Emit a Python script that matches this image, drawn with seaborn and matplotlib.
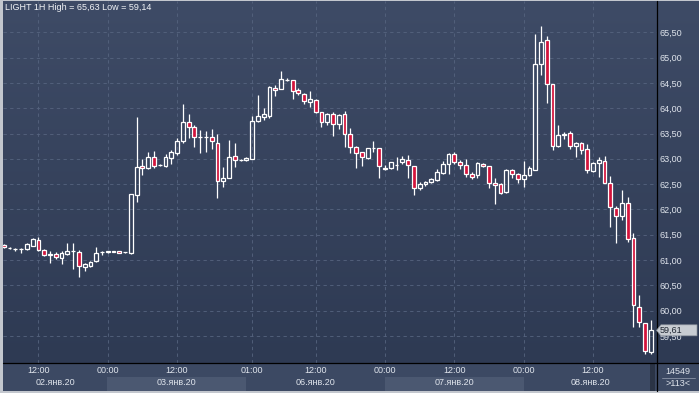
import numpy as np
import matplotlib
matplotlib.use("Agg")
import matplotlib.pyplot as plt
import seaborn as sns
from matplotlib.colors import LinearSegmentedColormap
from matplotlib.patches import Rectangle, Polygon
from matplotlib.lines import Line2D
from matplotlib.transforms import IdentityTransform

# Hourly candles, 02.01.2020 06:00 .. 08.01.2020 (113 bars)
opens = [61.29, 61.24, 61.22, 61.21, 61.21, 61.28, 61.40, 61.20, 61.09, 61.12,
         61.04, 61.12, 61.17, 61.16, 60.86, 60.89, 60.98, 61.15, 61.16, 61.17,
         61.17, 61.15, 61.13, 62.28, 62.86, 62.81, 63.03, 62.87, 62.85, 63.01,
         63.11, 63.36, 63.72, 63.62, 63.44, 63.44, 63.44, 63.32, 62.56, 62.63,
         63.06, 62.98, 62.97, 63.00, 63.74, 63.83, 63.85, 64.40, 64.38, 64.56,
         64.55, 64.36, 64.28, 64.12, 64.17, 63.92, 63.72, 63.89, 63.68, 63.89,
         63.50, 63.24, 63.13, 63.01, 63.22, 63.21, 62.81, 62.81, 62.88, 62.93,
         62.98, 62.85, 62.42, 62.50, 62.55, 62.58, 62.72, 62.90, 63.10, 62.93,
         62.88, 62.70, 62.67, 62.89, 62.85, 62.53, 62.51, 62.35, 62.77, 62.70,
         62.60, 62.68, 62.78, 64.88, 65.35, 64.47, 63.25, 63.48, 63.51, 63.25,
         63.31, 63.20, 62.75, 62.92, 62.95, 62.53, 62.03, 61.86, 62.13, 61.43,
         60.07, 59.75, 59.18]
highs = [61.31, 61.25, 61.24, 61.23, 61.34, 61.44, 61.46, 61.21, 61.17, 61.15,
         61.18, 61.33, 61.34, 61.20, 60.95, 60.98, 61.25, 61.18, 61.18, 61.18,
         61.18, 61.16, 62.31, 63.82, 63.00, 63.14, 63.15, 62.90, 63.09, 63.17,
         63.41, 64.09, 63.89, 63.66, 63.57, 63.54, 63.59, 63.50, 62.84, 63.37,
         63.31, 63.00, 63.04, 63.84, 64.26, 64.00, 64.43, 64.45, 64.73, 64.59,
         64.56, 64.40, 64.30, 64.34, 64.18, 63.93, 63.90, 63.93, 63.88, 63.95,
         63.60, 63.26, 63.14, 63.22, 63.35, 63.22, 62.87, 62.94, 63.03, 63.05,
         63.07, 62.86, 62.55, 62.57, 62.62, 62.80, 62.95, 63.11, 63.13, 62.98,
         62.99, 62.73, 62.93, 62.92, 62.86, 62.62, 62.53, 62.80, 62.79, 62.71,
         62.96, 62.85, 65.47, 65.63, 65.43, 64.48, 63.66, 63.53, 63.54, 63.33,
         63.33, 63.30, 62.94, 63.03, 63.06, 62.66, 62.07, 62.39, 62.25, 61.53,
         60.30, 59.76, 59.81]
lows = [61.24, 61.22, 61.18, 61.14, 61.19, 61.27, 61.18, 61.07, 60.95, 61.01,
        60.93, 61.10, 60.82, 60.67, 60.79, 60.86, 60.97, 61.09, 61.14, 61.15,
        61.13, 61.14, 61.12, 62.14, 62.68, 62.80, 62.82, 62.85, 62.84, 62.89,
        63.08, 63.32, 63.41, 63.24, 63.11, 63.14, 63.19, 62.22, 62.45, 62.62,
        62.84, 62.96, 62.96, 62.99, 63.73, 63.77, 63.80, 64.24, 64.37, 64.53,
        64.18, 64.26, 64.08, 64.03, 63.90, 63.62, 63.67, 63.46, 63.58, 63.24,
        63.11, 62.81, 62.86, 63.00, 63.14, 62.63, 62.78, 62.80, 62.77, 62.89,
        62.63, 62.29, 62.38, 62.47, 62.53, 62.57, 62.70, 62.70, 62.90, 62.80,
        62.65, 62.60, 62.63, 62.83, 62.43, 62.10, 62.30, 62.33, 62.63, 62.53,
        62.45, 62.66, 62.77, 64.65, 64.10, 63.18, 63.23, 63.40, 63.20, 63.03,
        63.10, 62.71, 62.73, 62.65, 62.52, 61.66, 61.33, 61.80, 61.35, 59.68,
        59.68, 59.14, 59.14]
closes = [61.25, 61.23, 61.21, 61.21, 61.31, 61.42, 61.20, 61.09, 61.12, 61.06,
          61.14, 61.17, 61.17, 60.89, 60.92, 60.97, 61.14, 61.16, 61.17, 61.16,
          61.14, 61.15, 62.30, 62.83, 62.82, 63.03, 62.86, 62.87, 63.03, 63.13,
          63.35, 63.72, 63.62, 63.43, 63.44, 63.44, 63.35, 62.56, 62.63, 63.04,
          62.97, 62.98, 63.02, 63.75, 63.85, 63.89, 64.42, 64.36, 64.57, 64.56,
          64.34, 64.30, 64.15, 64.18, 63.93, 63.72, 63.89, 63.69, 63.87, 63.49,
          63.24, 63.11, 63.03, 63.21, 63.22, 62.85, 62.80, 62.93, 62.88, 63.00,
          62.87, 62.43, 62.50, 62.55, 62.60, 62.73, 62.90, 63.09, 62.93, 62.87,
          62.70, 62.65, 62.91, 62.85, 62.53, 62.49, 62.33, 62.78, 62.70, 62.60,
          62.67, 62.81, 64.88, 65.31, 64.47, 63.25, 63.47, 63.49, 63.25, 63.31,
          63.18, 62.77, 62.92, 62.98, 62.53, 62.05, 61.86, 62.13, 61.41, 60.11,
          59.77, 59.20, 59.61]

time_ticks = [6, 18, 30, 43, 54, 66, 78, 90, 102]
time_labels = ['12:00', '00:00', '12:00', '01:00', '12:00', '00:00', '12:00', '00:00', '12:00']
day_edges = [18, 42, 66, 90]
day_labels = ['02.янв.20', '03.янв.20', '06.янв.20', '07.янв.20', '08.янв.20']
price_ticks = [59.5, 60.0, 60.5, 61.0, 61.5, 62.0, 62.5, 63.0, 63.5, 64.0, 64.5, 65.0, 65.5]
last_price = 59.61
title = 'LIGHT 1H High = 65,63 Low = 59,14'
bars_total = '14549'
bars_visible = '>113<'

sns.set_theme(style="dark")
plt.rcParams['font.family'] = ['Liberation Sans', 'DejaVu Sans']

W, H = 699, 393
TXT = '#dfe4ec'
PANEL = '#3c4963'
fig = plt.figure(figsize=(W / 100, H / 100), dpi=100)
fig.patch.set_facecolor('#c3c7ce')


def px(x0, y0, x1, y1):
    # pixel box with top-left origin -> figure rect
    return [x0 / W, 1 - y1 / H, (x1 - x0) / W, (y1 - y0) / H]


# gradient background behind chart and price scale
bg = fig.add_axes(px(3, 1, W, 363))
grad = LinearSegmentedColormap.from_list('bg', ['#2e3a53', '#3e4b66'])
bg.imshow(np.linspace(0, 1, 256).reshape(-1, 1)[::-1], cmap=grad, aspect='auto',
          extent=[0, 1, 0, 1])
bg.set_axis_off()

ax = fig.add_axes(px(3.3, 1, 656.7, 363))
ax.patch.set_alpha(0)
ax.set_xlim(-0.08, 113.03)
ax.set_ylim(58.964, 66.119)

x = np.arange(len(opens))
o, h, l, c = map(np.array, (opens, highs, lows, closes))
up = c >= o
top = np.maximum(o, c)
bot = np.minimum(o, c)
ax.vlines(x, top, h, color='white', lw=0.9, zorder=3)
ax.vlines(x, l, bot, color='white', lw=0.9, zorder=3)
ax.bar(x[up], (c - o)[up], bottom=o[up], width=0.66, facecolor='none',
       edgecolor='white', linewidth=0.9, zorder=4)
ax.bar(x[~up], (c - o)[~up], bottom=o[~up], width=0.66, facecolor='#d3143c',
       edgecolor='white', linewidth=0.9, zorder=4)

ax.set_xticks(time_ticks)
ax.set_xticklabels([])
ax.set_yticks(price_ticks)
ax.set_yticklabels([f'{v:.2f}'.replace('.', ',') for v in price_ticks])
ax.yaxis.tick_right()
ax.tick_params(axis='y', length=0, pad=2, labelsize=6.5, labelcolor=TXT)
ax.tick_params(axis='x', length=0)
ax.grid(True, color='#56647f', linestyle=(0, (4, 4)), linewidth=0.6)
ax.set_axisbelow(True)
for s in ax.spines.values():
    s.set_visible(False)

fig.text(5 / W, 1 - 8 / H, title, ha='left', va='center', fontsize=6.5, color='#f2f4f7')

# last price marker
fig.canvas.draw()
yd = ax.transData.transform((0, last_price))[1]
x_tip = 656.5
poly = Polygon([(x_tip, yd), (x_tip + 4.5, yd + 5.5), (697, yd + 5.5), (697, yd - 5.5),
                (x_tip + 4.5, yd - 5.5)], closed=True, transform=IdentityTransform(),
               facecolor='#c8ccd2', edgecolor='#8d949e', lw=0.5, zorder=20)
fig.add_artist(poly)
fig.text(660 / W, yd / H, f'{last_price:.2f}'.replace('.', ','), ha='left', va='center',
         fontsize=6.5, color='#1d2430', zorder=21)

# time axis panel
tax = fig.add_axes(px(3, 363, 656.7, 391))
tax.set_facecolor(PANEL)
tax.set_xlim(ax.get_xlim())
tax.set_ylim(0, 1)
tax.set_xticks([])
tax.set_yticks([])
for s in tax.spines.values():
    s.set_visible(False)
edges = [ax.get_xlim()[0]] + day_edges + [ax.get_xlim()[1]]
for i, lab in enumerate(day_labels):
    if i % 2 == 1:
        tax.axvspan(edges[i], edges[i + 1], 0, 0.5, color='#4b5871', lw=0)
    tax.text((edges[i] + edges[i + 1]) / 2, 0.3, lab, ha='center', va='center',
             fontsize=6.5, color=TXT)
for t, lab in zip(time_ticks, time_labels):
    tax.text(t, 0.72, lab, ha='center', va='center', fontsize=6.5, color=TXT)

# scroll stripe
fig.add_artist(Rectangle((650 / W, 1 - 391 / H), 5 / W, 28 / H, transform=fig.transFigure,
                         facecolor='#2a3345', edgecolor='none'))

# bottom right counters
rax = fig.add_axes(px(656.7, 363, W, 391))
rax.set_facecolor(PANEL)
rax.set_xticks([])
rax.set_yticks([])
for s in rax.spines.values():
    s.set_visible(False)
fig.text(678 / W, 1 - 371 / H, bars_total, ha='center', va='center', fontsize=6.5, color=TXT)
fig.text(678 / W, 1 - 384 / H, bars_visible, ha='center', va='center', fontsize=6.5, color=TXT)
fig.add_artist(Line2D([662 / W, 695 / W], [1 - 377.5 / H] * 2, transform=fig.transFigure,
                      color='#8a94a6', lw=0.6))

# separator lines
fig.add_artist(Line2D([656.7 / W] * 2, [1 - 1 / H, 1 - 391 / H], transform=fig.transFigure,
                      color='black', lw=0.9))
fig.add_artist(Line2D([3 / W, 1], [1 - 363 / H] * 2, transform=fig.transFigure,
                      color='black', lw=0.9))

fig.savefig('out.png', dpi=100, facecolor=fig.get_facecolor())
